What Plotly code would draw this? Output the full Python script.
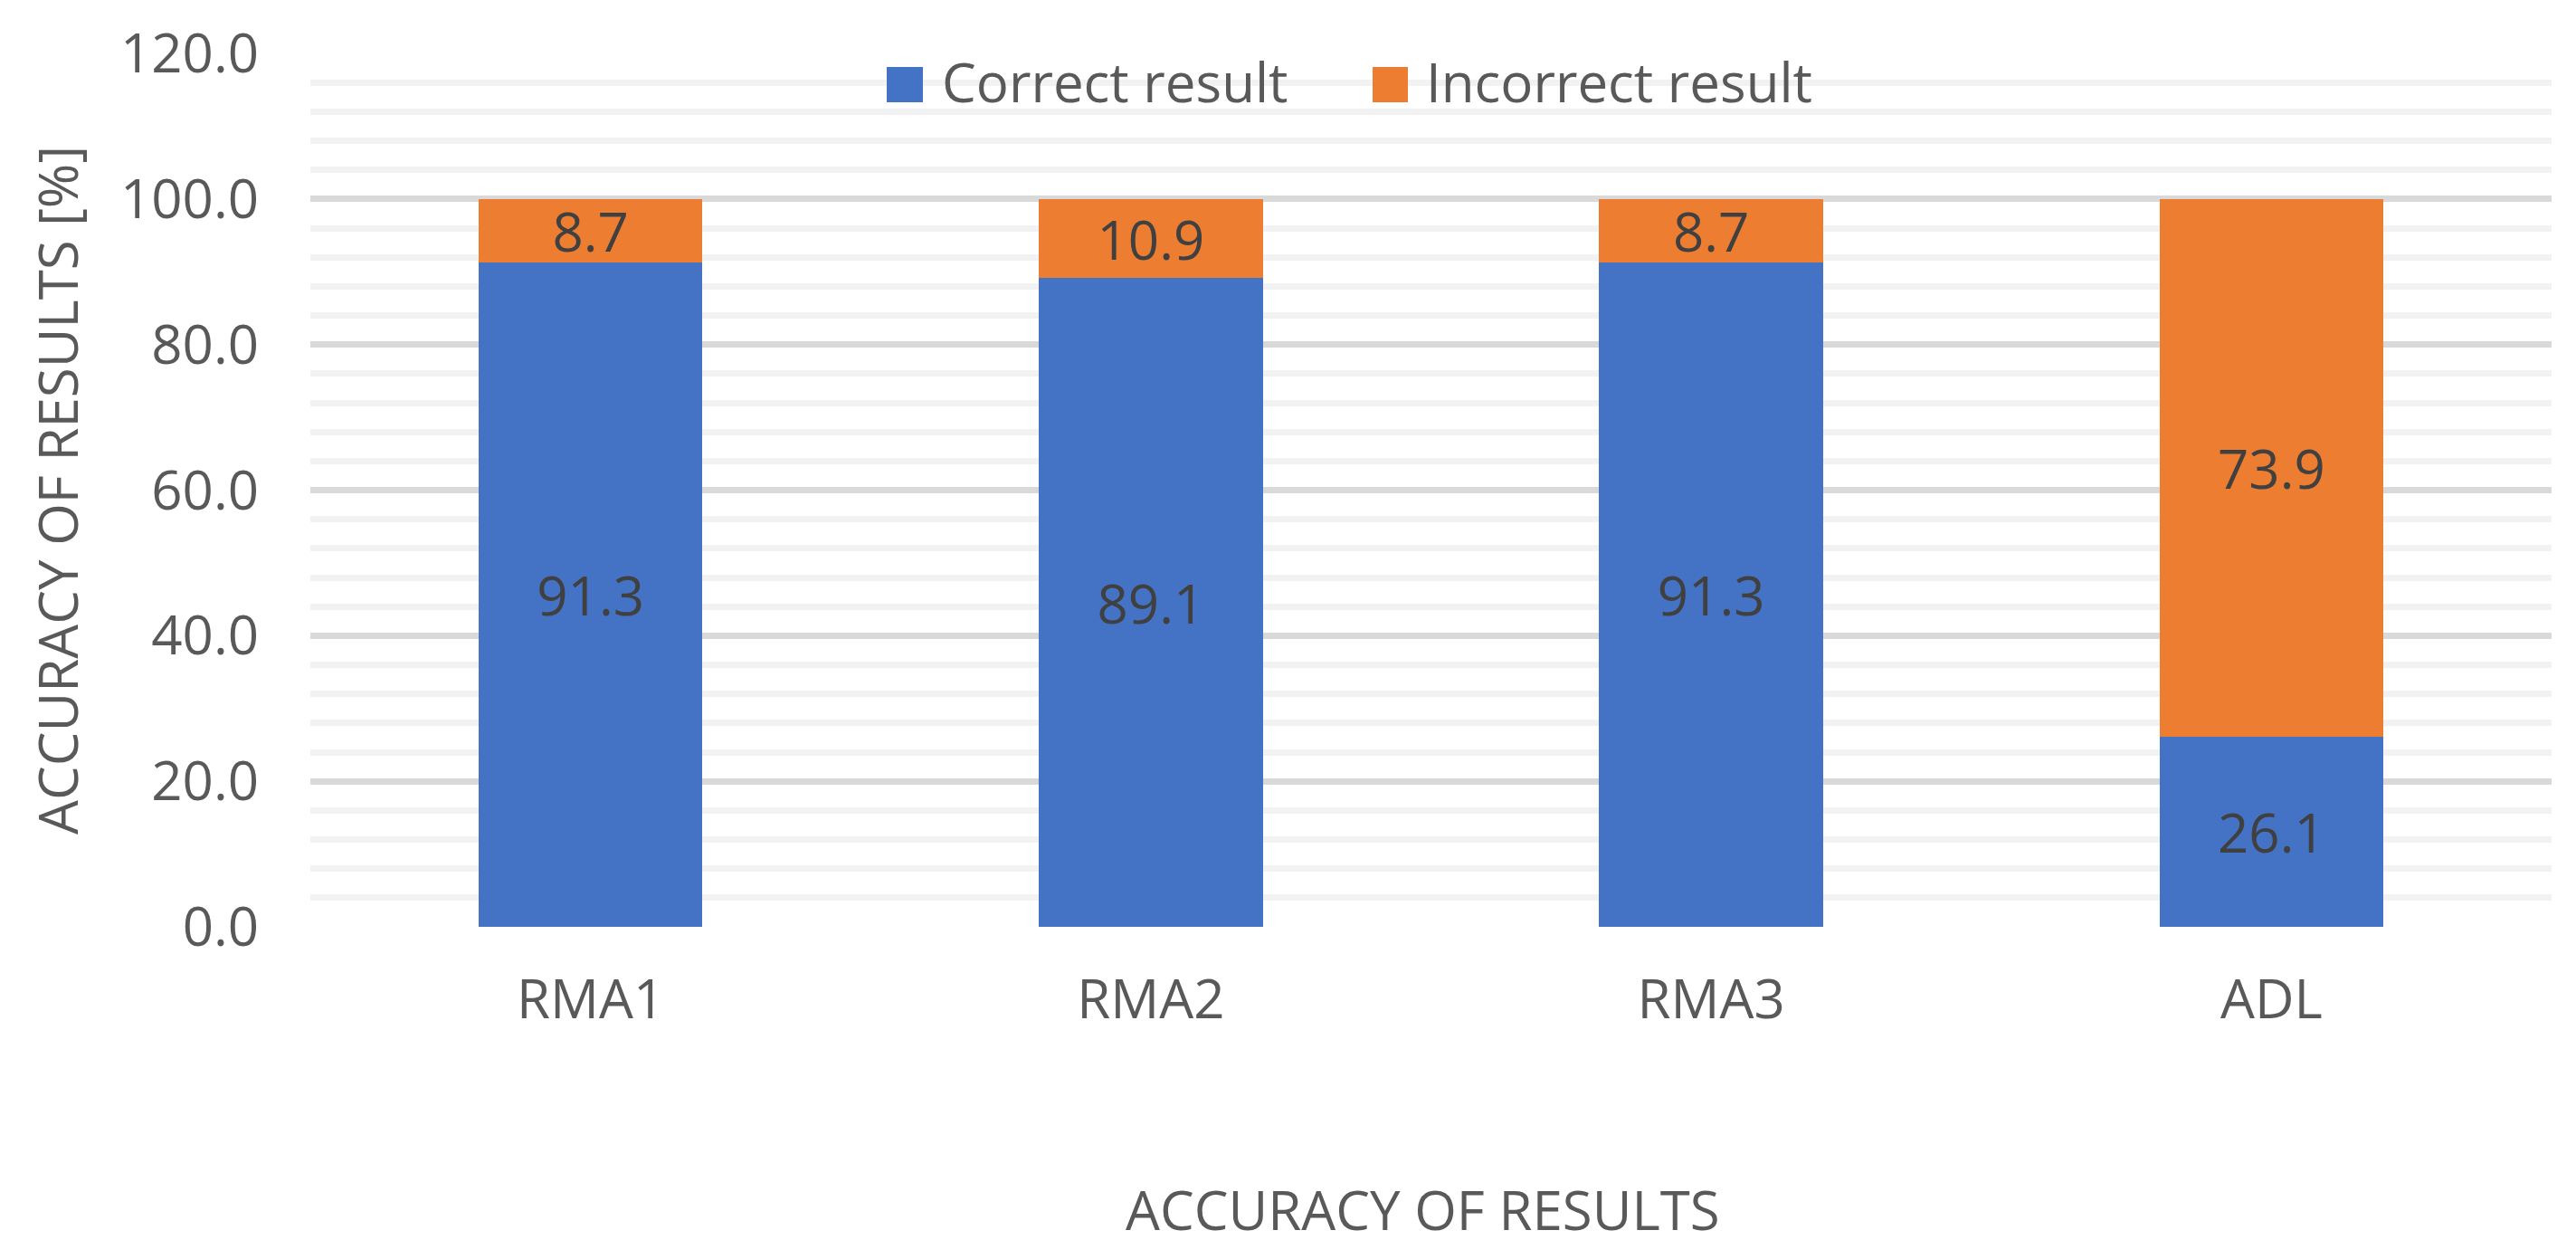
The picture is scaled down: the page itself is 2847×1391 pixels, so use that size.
import plotly.graph_objects as go

categories = ["RMA1", "RMA2", "RMA3", "ADL"]
correct = [91.3, 89.1, 91.3, 26.1]
incorrect = [8.7, 10.9, 8.7, 73.9]
series_names = ["Correct result", "Incorrect result"]
series_colors = ["#4472C4", "#ED7D31"]
y_tick_vals = [0, 20, 40, 60, 80, 100, 120]
y_tick_text = ["0.0", "20.0", "40.0", "60.0", "80.0", "100.0", "120.0"]

FONT = "Open Sans"
OFF = 8  # default page body margin in the written HTML
W, H = 2847 - OFF, 1391 - OFF
L, R, T, B = 343 - OFF, 27, 59 - OFF, 367
PW, PH = W - L - R, H - T - B


def px_x(x):
    # screen x -> paper fraction
    return (x - OFF - L) / PW


def px_y(y):
    # screen y -> paper fraction
    return (H - B - (y - OFF)) / PH


fig = go.Figure()
for name, vals, col in zip(series_names, [correct, incorrect], series_colors):
    fig.add_trace(go.Bar(
        x=categories, y=vals, name=name,
        marker=dict(color=col, line=dict(width=0)),
        texttemplate="%{y:.1f}", textposition="inside",
        insidetextanchor="middle", constraintext="none",
        textfont=dict(family=FONT, size=60, color="#404040"),
        showlegend=False,
    ))

fig.update_layout(
    width=W, height=H,
    margin=dict(l=L, r=R, t=T, b=B, pad=0),
    barmode="stack", bargap=0.6,
    plot_bgcolor="white", paper_bgcolor="white",
    font=dict(family=FONT, size=60, color="#595959"),
    uniformtext=dict(minsize=60, mode="show"),
)
fig.update_yaxes(
    range=[0, 120], tickvals=y_tick_vals, ticktext=y_tick_text,
    showgrid=True, gridcolor="#D9D9D9", gridwidth=6.5,
    zeroline=False, showline=False, ticks="",
    ticklabelstandoff=56, automargin=False,
    tickfont=dict(family=FONT, size=60, color="#595959"),
    minor=dict(dtick=4, showgrid=True, gridcolor="#F2F2F2", gridwidth=6.5),
)
fig.update_xaxes(
    showgrid=False, showline=False, zeroline=False, ticks="",
    ticklabelstandoff=40, automargin=False,
    tickfont=dict(family=FONT, size=60, color="#595959"),
)

# axis titles
fig.add_annotation(text="ACCURACY OF RESULTS", xref="paper", yref="paper",
                   x=px_x(1572), y=px_y(1336), showarrow=False,
                   xanchor="center", yanchor="middle",
                   font=dict(family=FONT, size=60, color="#595959"))
fig.add_annotation(text="ACCURACY OF RESULTS [%]", xref="paper", yref="paper",
                   x=px_x(63), y=px_y(542), showarrow=False, textangle=-90,
                   xanchor="center", yanchor="middle",
                   font=dict(family=FONT, size=60, color="#595959"))

# legend (manual, large square keys)
legend_sq = [(980, 1020), (1517, 1556)]
legend_txt_x = [1039, 1574]
for (x0, x1), tx, name, col in zip(legend_sq, legend_txt_x, series_names, series_colors):
    fig.add_shape(type="rect", xref="paper", yref="paper",
                  x0=px_x(x0), x1=px_x(x1), y0=px_y(113), y1=px_y(74),
                  fillcolor=col, line=dict(width=0), layer="above")
    fig.add_annotation(text=name, xref="paper", yref="paper",
                       x=px_x(tx), y=px_y(90), showarrow=False,
                       xanchor="left", yanchor="middle",
                       font=dict(family=FONT, size=60, color="#595959"))

fig.write_html("out.html")
